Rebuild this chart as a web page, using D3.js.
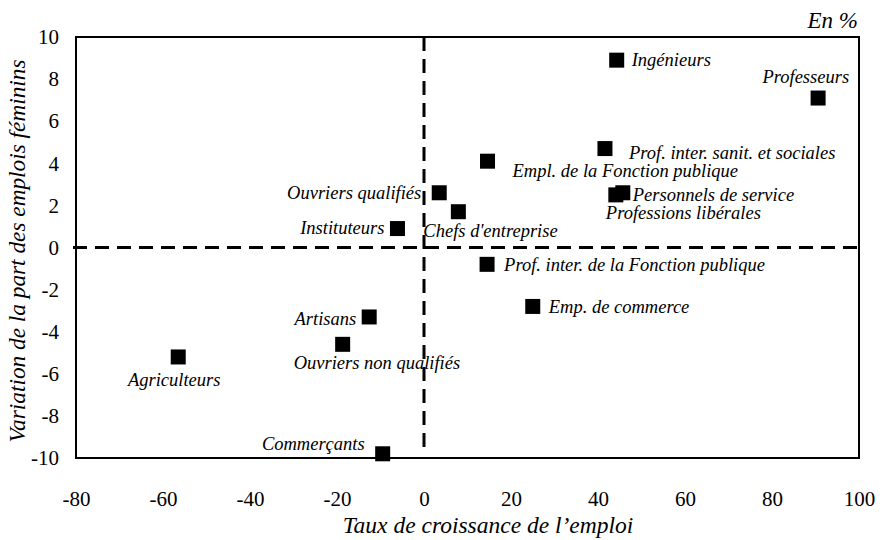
<!DOCTYPE html>
<html>
<head>
<meta charset="utf-8">
<script src="https://cdn.jsdelivr.net/npm/d3@7/dist/d3.min.js"></script>
<style>
  body { margin: 0; background: #fff; }
  svg text { font-family: "Liberation Serif", "Times New Roman", serif; fill: #000; }
</style>
</head>
<body>
<svg width="884" height="540"></svg>
<script>
// Data
var categories = ["Ingénieurs", "Professeurs", "Prof. inter. sanit. et sociales", "Empl. de la Fonction publique",
  "Personnels de service", "Professions libérales", "Ouvriers qualifiés", "Chefs d'entreprise", "Instituteurs",
  "Prof. inter. de la Fonction publique", "Emp. de commerce", "Artisans", "Ouvriers non qualifiés",
  "Agriculteurs", "Commerçants"];
var growth = [44.3, 90.6, 41.6, 14.6, 45.7, 44.1, 3.5, 7.9, -6.1, 14.5, 25.0, -12.6, -18.7, -56.5, -9.5];
var femShare = [8.9, 7.1, 4.7, 4.1, 2.6, 2.5, 2.6, 1.7, 0.9, -0.8, -2.8, -3.3, -4.6, -5.2, -9.8];
var xTicks = [-80, -60, -40, -20, 0, 20, 40, 60, 80, 100];
var yTicks = [10, 8, 6, 4, 2, 0, -2, -4, -6, -8, -10];

// label placement (offset from marker centre, text anchor)
var labelPos = [
  [15, 6, "start"], [31, -15, "end"], [24, 10, "start"], [25, 16, "start"],
  [10, 8, "start"], [-10, 24, "start"], [-18, 6, "end"], [-35, 25, "start"], [-13, 5, "end"],
  [17, 7, "start"], [16, 7, "start"], [-13, 8, "end"], [-49, 25, "start"],
  [-4, 29, "middle"], [-18, -4, "end"]
];

var serif = "'Liberation Serif', 'Times New Roman', serif";

var margin = {top: 37, right: 25, bottom: 82, left: 76},
  width = 884 - margin.left - margin.right,
  height = 540 - margin.top - margin.bottom;

var svg = d3.select("svg");
var g = svg.append("g")
  .attr("transform", "translate(" + margin.left + "," + margin.top + ")");

var x = d3.scaleLinear().domain([-80, 100]).range([0, width]);
var y = d3.scaleLinear().domain([-10, 10]).range([height, 0]);

// frame
g.append("rect")
  .attr("x", 0).attr("y", 0)
  .attr("width", width).attr("height", height)
  .attr("fill", "none")
  .attr("stroke", "#000")
  .attr("stroke-width", 2);

// axes (labels only)
var xAxis = g.append("g")
  .attr("transform", "translate(0," + height + ")")
  .call(d3.axisBottom(x).tickValues(xTicks).tickSize(0).tickPadding(33).tickFormat(function(d) { return String(d); }));
xAxis.select(".domain").remove();
xAxis.selectAll("text")
  .attr("font-family", serif)
  .style("font-size", "21px");

var yAxis = g.append("g")
  .call(d3.axisLeft(y).tickValues(yTicks).tickSize(0).tickPadding(17).tickFormat(function(d) { return String(d); }));
yAxis.select(".domain").remove();
yAxis.selectAll("text")
  .attr("font-family", serif)
  .style("font-size", "21px");

// dashed zero lines
g.append("line")
  .attr("x1", -3).attr("x2", width)
  .attr("y1", y(0)).attr("y2", y(0))
  .attr("stroke", "#000").attr("stroke-width", 3)
  .attr("stroke-dasharray", "14,8");

g.append("line")
  .attr("x1", x(0)).attr("x2", x(0))
  .attr("y1", 0).attr("y2", height - 10)
  .attr("stroke", "#000").attr("stroke-width", 3)
  .attr("stroke-dasharray", "14,8");

// points
var size = 15;
var pts = g.selectAll(".pt")
  .data(categories)
  .enter().append("g")
  .attr("class", "pt")
  .attr("transform", function(d, i) {
    return "translate(" + x(growth[i]) + "," + y(femShare[i]) + ")";
  });

pts.append("rect")
  .attr("x", -size / 2).attr("y", -size / 2)
  .attr("width", size).attr("height", size)
  .attr("fill", "#000");

pts.append("text")
  .attr("x", function(d, i) { return labelPos[i][0]; })
  .attr("y", function(d, i) { return labelPos[i][1]; })
  .attr("text-anchor", function(d, i) { return labelPos[i][2]; })
  .attr("font-family", serif)
  .style("font-size", "18.5px")
  .style("font-style", "italic")
  .text(function(d) { return d; });

// titles
svg.append("text")
  .attr("x", 858).attr("y", 28)
  .attr("text-anchor", "end")
  .attr("font-family", serif)
  .style("font-size", "23px")
  .style("font-style", "italic")
  .text("En %");

svg.append("text")
  .attr("x", 488).attr("y", 533)
  .attr("text-anchor", "middle")
  .attr("font-family", serif)
  .style("font-size", "23.5px")
  .style("font-style", "italic")
  .text("Taux de croissance de l\u2019emploi");

svg.append("text")
  .attr("transform", "translate(25,251) rotate(-90)")
  .attr("text-anchor", "middle")
  .attr("font-family", serif)
  .style("font-size", "23.3px")
  .style("font-style", "italic")
  .text("Variation de la part des emplois féminins");
</script>
</body>
</html>
